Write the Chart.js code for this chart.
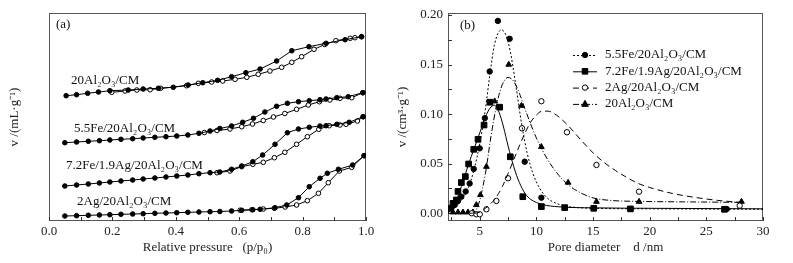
<!DOCTYPE html>
<html>
<head>
<meta charset="utf-8">
<script src="https://cdn.jsdelivr.net/npm/chart.js@4.4.0/dist/chart.umd.min.js"></script>
<style>
  html, body { margin: 0; padding: 0; background: #fff; }
  #wrap { position: relative; width: 793px; height: 263px; }
  #isoCanvas { position: absolute; left: 0; top: 0; }
  #psdCanvas { position: absolute; left: 395px; top: 0; }
</style>
</head>
<body>
<div id="wrap">
  <canvas id="isoCanvas" width="395" height="263"></canvas>
  <canvas id="psdCanvas" width="398" height="263"></canvas>
</div>
<script>
// ---- (a) N2 isotherms: [p/p0, uptake (arbitrary, curves stacked)] ----
const al20Ads = [[0.054,125.3],[0.087,126.3],[0.122,127.7],[0.156,129],[0.192,130.3],[0.25,131],[0.297,132],[0.345,132.7],[0.392,133.7],[0.439,136],[0.485,138.3],[0.532,140.7],[0.576,144.3],[0.621,148.3],[0.666,152],[0.718,160],[0.766,170.3],[0.82,174.3],[0.874,177.7],[0.934,181.3],[0.986,184.3]];
const al20Des = [[0.986,184.3],[0.965,183.3],[0.95,182.7],[0.905,180.3],[0.87,176.5],[0.836,171.7],[0.797,164.3],[0.766,158.7],[0.734,153.7],[0.697,150],[0.66,146.7],[0.624,143.7],[0.587,141.7],[0.548,140],[0.513,139],[0.471,137.7],[0.434,135.3],[0.352,132.7],[0.319,131.3],[0.277,131],[0.24,130],[0.198,128.7]];
const fe55Ads = [[0.05,78.3],[0.087,79],[0.124,79.7],[0.159,80.3],[0.192,81],[0.227,81.7],[0.264,82.3],[0.297,83],[0.334,83.7],[0.369,84.3],[0.403,85],[0.438,86],[0.473,87.7],[0.508,90],[0.539,92.5],[0.576,95],[0.611,98.7],[0.645,102.7],[0.681,109],[0.718,114.7],[0.752,117.7],[0.787,119.3],[0.821,120.3],[0.855,121.3],[0.874,122],[0.908,123.3],[0.944,124.3],[0.99,128.3]];
const fe55Des = [[0.99,128.3],[0.955,123.3],[0.918,122.7],[0.886,121],[0.853,119.3],[0.818,116],[0.781,111.7],[0.744,107.5],[0.708,104],[0.676,100.5],[0.642,97],[0.608,94.3],[0.571,92],[0.53,90.5],[0.49,88.5]];
const fe72Ads = [[0.05,35],[0.087,36],[0.124,37],[0.159,38],[0.192,39],[0.227,40],[0.264,41],[0.297,42],[0.334,43],[0.369,44],[0.403,45],[0.438,46],[0.473,47.3],[0.508,48.3],[0.539,49],[0.576,51.7],[0.608,55],[0.643,59.3],[0.674,66],[0.713,76.7],[0.752,88.3],[0.787,92],[0.821,93.7],[0.855,95],[0.874,95.3],[0.908,96.7],[0.947,98.7],[0.991,104.3]];
const fe72Des = [[0.991,104.3],[0.973,100],[0.937,96.7],[0.918,96],[0.884,95.3],[0.851,91.7],[0.815,84.3],[0.781,76.7],[0.744,68.7],[0.711,63.3],[0.676,58.7],[0.643,56.7],[0.608,54.3],[0.571,50],[0.53,48.3]];
const ag2Ads = [[0.05,5],[0.087,5.3],[0.124,5.7],[0.159,6],[0.192,6.3],[0.227,6.7],[0.264,7],[0.297,7.3],[0.334,7.7],[0.369,8],[0.403,8.3],[0.438,8.7],[0.473,9],[0.508,9.3],[0.539,9.5],[0.576,10],[0.608,10.7],[0.643,11.3],[0.666,11.7],[0.713,13.3],[0.75,16],[0.787,23.3],[0.821,34.3],[0.855,42.7],[0.878,47.7],[0.913,51.7],[0.958,56],[0.994,65.3]];
const ag2Des = [[0.994,65.3],[0.955,53.7],[0.916,50],[0.881,38.3],[0.85,27.7],[0.815,20.3],[0.781,16],[0.745,14],[0.711,12.7],[0.676,12],[0.64,11.3],[0.603,10.8]];
const isoNames = ['20Al₂O₃/CM', '5.5Fe/20Al₂O₃/CM', '7.2Fe/1.9Ag/20Al₂O₃/CM', '2Ag/20Al₂O₃/CM'];

// ---- (b) pore size distribution: [d (nm), v (cm3/g)] ----
const psdNames = ['5.5Fe/20Al₂O₃/CM', '7.2Fe/1.9Ag/20Al₂O₃/CM', '2Ag/20Al₂O₃/CM', '20Al₂O₃/CM'];
const fe55Pts = [[2.5,0.005],[2.79,0.0084],[3.08,0.0124],[3.38,0.0167],[3.76,0.022],[4.11,0.030],[4.47,0.0447],[5.0,0.0655],[5.45,0.096],[5.88,0.143],[6.6,0.194],[7.64,0.176],[8.97,0.052],[10.44,0.0157],[26.8,0.0043]];
const fe72Pts = [[2.35,0.005],[2.64,0.010],[2.94,0.0134],[3.08,0.022],[3.38,0.031],[3.73,0.037],[4.02,0.0497],[4.47,0.0645],[4.85,0.0746],[5.38,0.089],[5.9,0.112],[6.76,0.107],[7.7,0.057],[8.8,0.0167],[10.44,0.0067],[12.5,0.0057],[15.06,0.005],[18.3,0.0044],[26.6,0.004]];
const ag2Pts = [[4.3,0.0],[4.7,-0.001],[5.0,-0.001],[5.59,0.004],[6.47,0.0124],[7.5,0.0353],[8.73,0.0857],[10.44,0.113],[12.7,0.0817],[15.3,0.0487],[19.06,0.0218],[27.94,0.0077]];
const al20Pts = [[2.64,0.001],[3.08,0.001],[3.52,0.001],[3.96,0.001],[4.4,0.001],[4.7,0.0084],[5.06,0.0185],[5.59,0.047],[6.32,0.113],[7.56,0.150],[8.68,0.1085],[10.44,0.067],[12.8,0.031],[15.3,0.0117],[19.06,0.0117],[28.1,0.0117]];
// fitted curves
const fe55Fit = [[2.2,0.001],[3.0,0.008],[3.5,0.015],[4.0,0.026],[4.5,0.044],[5.0,0.070],[5.5,0.105],[5.9,0.140],[6.3,0.170],[6.9,0.185],[7.3,0.180],[7.7,0.163],[8.2,0.128],[8.7,0.090],[9.2,0.060],[9.7,0.040],[10.3,0.025],[11,0.015],[12,0.009],[13,0.0065],[15,0.005],[20,0.0045],[30,0.004]];
const fe72Fit = [[2.2,0.001],[2.6,0.005],[3.0,0.015],[3.5,0.031],[4.0,0.049],[4.5,0.065],[5.0,0.081],[5.5,0.097],[5.9,0.106],[6.3,0.109],[6.7,0.102],[7.1,0.087],[7.5,0.068],[8.0,0.047],[8.5,0.031],[9.0,0.020],[9.5,0.014],[10.5,0.009],[12,0.0065],[15,0.0055],[20,0.005],[30,0.0045]];
const ag2Fit = [[4.5,0.0],[5.0,0.001],[5.5,0.005],[6.0,0.010],[6.5,0.017],[7.0,0.027],[7.5,0.040],[8.0,0.054],[8.5,0.068],[9.0,0.081],[9.5,0.092],[10.0,0.099],[10.5,0.103],[11.0,0.103],[11.5,0.101],[12,0.097],[13,0.086],[14,0.073],[15,0.061],[16,0.051],[17,0.043],[18,0.036],[19,0.030],[20,0.026],[22,0.020],[24,0.016],[26,0.013],[28,0.011]];
const al20Fit = [[2.2,0.0],[4.3,0.0],[4.7,0.004],[5.0,0.013],[5.5,0.040],[6.0,0.078],[6.5,0.110],[7.0,0.130],[7.5,0.137],[8.0,0.133],[8.5,0.121],[9.0,0.105],[10,0.076],[11,0.054],[12,0.038],[13,0.027],[14,0.020],[15,0.0155],[16.5,0.013],[19,0.012],[23,0.0115],[28,0.011]];

const FONT = "'Liberation Serif', 'Times New Roman', serif";
const xy = arr => arr.map(p => ({ x: p[0], y: p[1] }));

function drawMarker(ctx, style, x, y, r, filled) {
  ctx.beginPath();
  if (style === 'rect') {
    ctx.rect(x - r, y - r, 2 * r, 2 * r);
  } else if (style === 'triangle') {
    ctx.moveTo(x, y - r * 1.2);
    ctx.lineTo(x + r * 1.1, y + r * 0.8);
    ctx.lineTo(x - r * 1.1, y + r * 0.8);
    ctx.closePath();
  } else {
    ctx.arc(x, y, r, 0, Math.PI * 2);
  }
  ctx.fillStyle = filled ? '#000' : '#fff';
  ctx.fill();
  ctx.lineWidth = 1;
  ctx.strokeStyle = '#000';
  ctx.stroke();
}

// frame + inward tick marks
function framePlugin(xStep, yStep) {
  return {
    id: 'frame',
    beforeDatasetsDraw(chart) {
      const { ctx, chartArea: a, scales } = chart;
      ctx.save();
      ctx.strokeStyle = '#555';
      ctx.lineWidth = 1;
      ctx.strokeRect(a.left + 0.5, a.top + 0.5, a.right - a.left - 1, a.bottom - a.top - 1);
      ctx.strokeStyle = '#333';
      ctx.beginPath();
      if (xStep) {
        const xs = scales.x;
        for (let v = Math.ceil(xs.min / xStep) * xStep; v <= xs.max + 1e-9; v += xStep) {
          const px = Math.round(xs.getPixelForValue(v)) + 0.5;
          ctx.moveTo(px, a.bottom);
          ctx.lineTo(px, a.bottom - 4);
        }
      }
      if (yStep) {
        const ys = scales.y;
        for (let v = Math.ceil(ys.min / yStep) * yStep; v <= ys.max + 1e-9; v += yStep) {
          const py = Math.round(ys.getPixelForValue(v)) + 0.5;
          ctx.moveTo(a.left, py);
          ctx.lineTo(a.left + 4, py);
        }
      }
      ctx.stroke();
      ctx.restore();
    }
  };
}

// ---------- (a) ----------
const isoLabelPos = [[22, 80.7], [25, 129], [17, 165.7], [28, 202]];
const isoLabels = {
  id: 'isoLabels',
  afterDraw(chart) {
    const { ctx, chartArea: a } = chart;
    ctx.save();
    ctx.fillStyle = '#111';
    ctx.font = '13px ' + FONT;
    ctx.textBaseline = 'middle';
    ctx.fillText('(a)', a.left + 7, 25);
    isoNames.forEach((t, i) => ctx.fillText(t, a.left + isoLabelPos[i][0], isoLabelPos[i][1]));
    ctx.restore();
  }
};

function isoSet(data, filled) {
  return {
    data: xy(data), showLine: true, borderColor: '#000', borderWidth: 1,
    pointRadius: 2.3, pointBorderWidth: 1, pointBorderColor: '#000',
    pointBackgroundColor: filled ? '#000' : '#fff', tension: 0
  };
}

new Chart(document.getElementById('isoCanvas'), {
  type: 'scatter',
  data: {
    datasets: [
      isoSet(al20Ads, true), isoSet(fe55Ads, true), isoSet(fe72Ads, true), isoSet(ag2Ads, true),
      isoSet(al20Des, false), isoSet(fe55Des, false), isoSet(fe72Des, false), isoSet(ag2Des, false)
    ]
  },
  options: {
    responsive: false, animation: false, events: [],
    layout: { padding: { top: 13, right: 29, left: 0, bottom: 0 } },
    plugins: { legend: { display: false }, tooltip: { enabled: false } },
    scales: {
      x: {
        type: 'linear', min: 0, max: 1,
        ticks: { stepSize: 0.2, callback: v => v.toFixed(1), font: { family: FONT, size: 13 }, color: '#222', padding: 3 },
        grid: { display: false, drawTicks: false }, border: { display: false },
        title: { display: true, text: 'Relative pressure   (p/p₀)', font: { family: FONT, size: 13 }, color: '#222', padding: { top: 0, bottom: 8 } },
        afterFit: s => { s.height = 42; }
      },
      y: {
        min: 0, max: 208,
        ticks: { display: false },
        grid: { display: false, drawTicks: false }, border: { display: false },
        title: { display: true, text: 'v /(mL·g⁻¹)', font: { family: FONT, size: 13 }, color: '#222', padding: { top: 7, bottom: 0 } },
        afterFit: s => { s.width = 49; }
      }
    }
  },
  plugins: [framePlugin(0.1, 0), isoLabels]
});

// ---------- (b) ----------
const psdStyles = [
  { dash: [2, 2], point: 'circle', filled: true, r: 2.7 },
  { dash: [], point: 'rect', filled: true, r: 2.8 },
  { dash: [6, 4], point: 'circle', filled: false, r: 2.7 },
  { dash: [6, 2, 1, 2], point: 'triangle', filled: true, r: 3 }
];
const psdFits = [fe55Fit, fe72Fit, ag2Fit, al20Fit];
const psdPts = [fe55Pts, fe72Pts, ag2Pts, al20Pts];

const psdLegend = {
  id: 'psdLegend',
  afterDraw(chart) {
    const { ctx, chartArea: a } = chart;
    ctx.save();
    ctx.fillStyle = '#111';
    ctx.font = '13px ' + FONT;
    ctx.textBaseline = 'middle';
    ctx.fillText('(b)', a.left + 12, 26);
    psdNames.forEach((t, i) => {
      const st = psdStyles[i];
      const y = 55 + i * 16.3;
      const x0 = a.left + 125;
      ctx.strokeStyle = '#000';
      ctx.lineWidth = 1;
      ctx.setLineDash(st.dash);
      ctx.beginPath();
      ctx.moveTo(x0, y + 0.5);
      ctx.lineTo(x0 + 24, y + 0.5);
      ctx.stroke();
      ctx.setLineDash([]);
      drawMarker(ctx, st.point, x0 + 12, y, st.r, st.filled);
      ctx.fillStyle = '#111';
      ctx.fillText(t, x0 + 32, y);
    });
    ctx.restore();
  }
};

const psdSets = [];
psdFits.forEach((f, i) => {
  psdSets.push({
    data: xy(f), showLine: true, borderColor: '#000', borderWidth: 1,
    borderDash: psdStyles[i].dash, pointRadius: 0, cubicInterpolationMode: 'monotone'
  });
});
psdPts.forEach((p, i) => {
  const st = psdStyles[i];
  psdSets.push({
    data: xy(p), showLine: false, pointStyle: st.point,
    pointRadius: st.point === 'rect' ? 4 : (st.point === 'triangle' ? 3.3 : st.r),
    pointBorderWidth: 1, pointBorderColor: '#000',
    pointBackgroundColor: st.filled ? '#000' : '#fff'
  });
});

new Chart(document.getElementById('psdCanvas'), {
  type: 'scatter',
  data: { datasets: psdSets },
  options: {
    responsive: false, animation: false, events: [],
    layout: { padding: { top: 13, right: 30, left: 0, bottom: 0 } },
    plugins: { legend: { display: false }, tooltip: { enabled: false } },
    scales: {
      x: {
        type: 'linear', min: 2.2, max: 30,
        ticks: { stepSize: 5, includeBounds: false, font: { family: FONT, size: 13 }, color: '#222', padding: 3 },
        grid: { display: false, drawTicks: false }, border: { display: false },
        title: { display: true, text: 'Pore diameter    d /nm', font: { family: FONT, size: 13 }, color: '#222', padding: { top: 0, bottom: 8 } },
        afterFit: s => { s.height = 42; }
      },
      y: {
        min: -0.0078, max: 0.202,
        ticks: { stepSize: 0.05, includeBounds: false, callback: v => v.toFixed(2), font: { family: FONT, size: 13 }, color: '#222', padding: 5 },
        grid: { display: false, drawTicks: false }, border: { display: false },
        title: { display: true, text: 'v /(cm³·g⁻¹)', font: { family: FONT, size: 13 }, color: '#222', padding: { top: 0, bottom: 0 } },
        afterFit: s => { s.width = 53; }
      }
    }
  },
  plugins: [framePlugin(2.5, 0.025), psdLegend]
});
</script>
</body>
</html>
